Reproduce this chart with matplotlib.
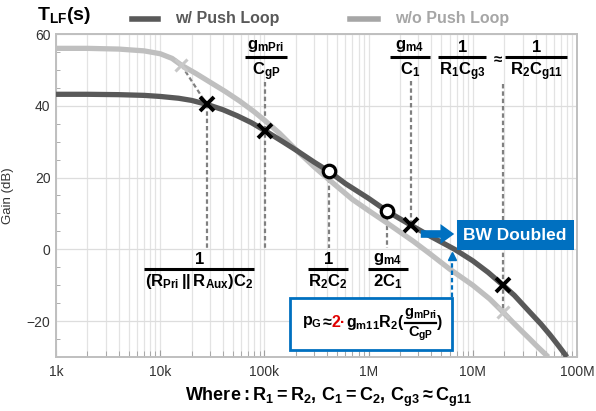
import matplotlib
matplotlib.use('Agg')
import matplotlib.pyplot as plt
from matplotlib import font_manager
from matplotlib.lines import Line2D
from matplotlib.patches import Rectangle, FancyArrowPatch
from matplotlib.ticker import LogLocator, MultipleLocator, NullFormatter

W, H = 596, 411

# loop gain with the push loop (dark) and without it (light)
freq_push = [1e3, 2e3, 4e3, 7e3, 1e4, 1.5e4, 2e4, 2.8e4, 4e4, 5.5e4, 7.5e4, 1.01e5,
             1.5e5, 2e5, 3e5, 4.17e5, 6e5, 1e6, 1.51e6, 2.56e6, 4e6, 6.7e6, 1e7,
             1.4e7, 1.95e7, 2.5e7, 3.5e7, 4.5e7, 5.5e7, 6.5e7, 7.2e7, 8e7]
gain_push = [43.2, 43.2, 43.1, 42.9, 42.6, 42.1, 41.5, 40.4, 38.9, 37.2, 35.3, 33.1,
             30.0, 27.7, 24.3, 21.7, 18.3, 14.2, 10.6, 6.7, 3.5, 0.0, -3.2,
             -6.4, -10.0, -12.8, -17.4, -20.8, -23.8, -26.5, -28.2, -30.0]

freq_nopush = [1e3, 2e3, 4e3, 7e3, 1e4, 1.3e4, 1.6e4, 2.2e4, 3e4, 4.2e4, 5.8e4, 8e4,
               1.01e5, 1.4e5, 2e5, 3e5, 4.17e5, 7e5, 1e6, 1.51e6, 2.7e6, 3.9e6, 6e6,
               1e7, 1.45e7, 1.95e7, 2.4e7, 3e7, 3.5e7, 4e7, 4.6e7, 5.3e7]
gain_nopush = [56.0, 56.0, 55.8, 55.3, 54.5, 53.2, 51.3, 49.0, 46.6, 44.0, 41.3, 38.3,
               35.9, 32.3, 27.8, 23.0, 19.4, 13.9, 10.8, 7.3, 2.2, -1.3, -5.5,
               -10.0, -13.8, -17.5, -20.2, -23.0, -24.9, -26.6, -28.3, -30.0]

# poles (x), zeros (o) and the poles of the loop without push path
pole_freq = [2.8e4, 1.01e5, 2.56e6, 1.95e7]
pole_gain = [40.4, 33.1, 6.7, -10.0]
zero_freq = [4.17e5, 1.51e6]
zero_gain = [21.7, 10.6]
old_pole_freq = [1.6e4, 1.95e7]
old_pole_gain = [51.3, -17.5]

xticks = [1e3, 1e4, 1e5, 1e6, 1e7, 1e8]
xticklabels = ['1k', '10k', '100k', '1M', '10M', '100M']
yticks = [-20, 0, 20, 40, 60]

names = {f.name for f in font_manager.fontManager.ttflist}
narrow = 'Liberation Sans Narrow' if 'Liberation Sans Narrow' in names else 'Liberation Sans'
plt.rcParams['font.family'] = ['Liberation Sans', 'DejaVu Sans']
plt.rcParams['mathtext.fontset'] = 'custom'
for k in ['rm', 'it', 'bf', 'sf']:
    plt.rcParams['mathtext.' + k] = narrow + ':bold'

DARK = '#595959'
LIGHT = '#BFBFBF'
BLUE = '#0070C0'
DASH = '#808080'

fig = plt.figure(figsize=(W / 100, H / 100), dpi=100)
ax = fig.add_axes([56 / W, 1 - 357 / H, (577 - 56) / W, (357 - 34) / H])

ax.set_xscale('log')
ax.set_xlim(1e3, 1e8)
ax.set_ylim(-30, 60)
ax.set_xticks(xticks)
ax.set_xticklabels(xticklabels)
ax.xaxis.set_minor_locator(LogLocator(base=10, subs=range(2, 10), numticks=20))
ax.xaxis.set_minor_formatter(NullFormatter())
ax.set_yticks(yticks)
ax.yaxis.set_minor_locator(MultipleLocator(5))
ax.grid(True, which='both', axis='x', color='#E3E3E3', lw=0.9, zorder=0)
ax.grid(True, which='major', axis='y', color='#DDDDDD', lw=0.9, zorder=0)
for s in ax.spines.values():
    s.set_color(LIGHT)
    s.set_linewidth(1.4)
ax.tick_params(axis='both', which='both', direction='in', color='#A0A0A0', labelsize=10,
               labelcolor='#333333')
ax.tick_params(axis='x', which='major', length=5, pad=6)
ax.tick_params(axis='x', which='minor', length=4)
ax.tick_params(axis='y', which='major', length=0, pad=4)
ax.tick_params(axis='y', which='minor', length=3)
ax.set_ylabel('Gain (dB)', fontsize=9.5, color='#333333', labelpad=9)

# dashed guides from the marks to their labels
dk = dict(color=DASH, lw=1.6, ls=(0, (2, 1.3)), zorder=2)
ax.plot([old_pole_freq[0], pole_freq[0]], [old_pole_gain[0], pole_gain[0]], **dk)
ax.plot([pole_freq[0], pole_freq[0]], [pole_gain[0], 0.5], **dk)
ax.plot([pole_freq[1], pole_freq[1]], [46.5, 0.5], **dk)
ax.plot([zero_freq[0], zero_freq[0]], [zero_gain[0], 0.5], **dk)
ax.plot([zero_freq[1], zero_freq[1]], [zero_gain[1], 0.5], **dk)
ax.plot([pole_freq[2], pole_freq[2]], [47.0, pole_gain[2]], **dk)
ax.plot([pole_freq[3], pole_freq[3]], [46.0, old_pole_gain[1]], **dk)

ax.plot(freq_nopush, gain_nopush, color=LIGHT, lw=3.8, solid_capstyle='butt',
        solid_joinstyle='round', zorder=3)
ax.plot(freq_push, gain_push, color=DARK, lw=3.8, solid_capstyle='butt',
        solid_joinstyle='round', zorder=4)

ax.plot(old_pole_freq, old_pole_gain, ls='none', marker='x', ms=8, mew=2.2,
        color='#C8C8C8', zorder=5)
ax.plot(pole_freq, pole_gain, ls='none', marker='x', ms=10, mew=2.8,
        color='black', zorder=6)
ax.plot(zero_freq, zero_gain, ls='none', marker='o', ms=9, mew=2.3,
        mfc='white', mec='black', zorder=6)


def px(x, y):
    return x / W, 1 - y / H


def ftext(x, y, s, **kw):
    kw.setdefault('fontsize', 12)
    return fig.text(*px(x, y), s, **kw)


def frac(xc, ybar, num, den, half, size=12):
    fig.add_artist(Line2D([(xc - half) / W, (xc + half) / W], [1 - ybar / H] * 2,
                          color='black', lw=2.2, solid_capstyle='butt'))
    ftext(xc, ybar - 2.5, num, ha='center', va='bottom', fontsize=size)
    ftext(xc, ybar + 3, den, ha='center', va='top', fontsize=size)


# title and legend
ftext(37, 15, r'$\mathrm{T_{LF}(s)}$', ha='left', va='center', fontsize=14)
fig.add_artist(Line2D([132 / W, 158 / W], [1 - 19 / H] * 2, color=DARK, lw=4))
ftext(175, 19, 'w/ Push Loop', ha='left', va='center', fontsize=11.5,
      fontweight='bold', color=DARK, family=narrow)
fig.add_artist(Line2D([350 / W, 378 / W], [1 - 19 / H] * 2, color='#A6A6A6', lw=4))
ftext(395, 19, 'w/o Push Loop', ha='left', va='center', fontsize=11.5,
      fontweight='bold', color='#A6A6A6', family=narrow)

# pole / zero expressions
frac(266, 57, r'$\mathrm{g_{mPri}}$', r'$\mathrm{C_{gP}}$', 21)
frac(410, 57, r'$\mathrm{g_{m4}}$', r'$\mathrm{C_1}$', 20)
frac(462, 57, r'$\mathrm{1}$', r'$\mathrm{R_1C_{g3}}$', 24)
ftext(497, 58, r'$\approx$', ha='center', va='center', fontsize=11)
frac(536, 57, r'$\mathrm{1}$', r'$\mathrm{R_2C_{g11}}$', 31)
frac(199, 269, r'$\mathrm{1}$', r'$\mathrm{(R_{Pri}\,||\,R_{Aux})C_2}$', 55)
frac(328, 269, r'$\mathrm{1}$', r'$\mathrm{R_2C_2}$', 20)
frac(388, 269, r'$\mathrm{g_{m4}}$', r'$\mathrm{2C_1}$', 20)

# pG expression box, pieces laid out left to right
fig.add_artist(Rectangle(px(290, 350), 162 / W, 52 / H, transform=fig.transFigure,
                         facecolor='white', edgecolor=BLUE, lw=2, zorder=3))
renderer = fig.canvas.get_renderer()
xcur = 302
for piece, col in [(r'$\mathrm{p_G}$', 'black'), ('\u2248', 'black'),
                   ('2\u00b7', '#E00000'), (r'$\mathrm{g_{m11}R_2(}$', 'black')]:
    t = ftext(xcur, 322, piece, ha='left', va='center', color=col, zorder=4,
              family=narrow, fontweight='bold', fontsize=11.5)
    bb = t.get_window_extent(renderer=renderer)
    xcur += bb.width + 0.3
fx0 = xcur + 0.5
fig.add_artist(Line2D([fx0 / W, (fx0 + 31) / W], [1 - 323 / H] * 2, color='black',
                      lw=1.6, zorder=4))
ftext(fx0 + 15.5, 321, r'$\mathrm{g_{mPri}}$', ha='center', va='bottom', zorder=4,
      fontsize=10.5)
ftext(fx0 + 15.5, 325, r'$\mathrm{C_{gP}}$', ha='center', va='top', zorder=4,
      fontsize=10.5)
ftext(fx0 + 32, 322, ')', ha='left', va='center', zorder=4, family=narrow,
      fontweight='bold', fontsize=11.5)

# bandwidth callout
fig.add_artist(Rectangle(px(457, 250), 117 / W, 30 / H, transform=fig.transFigure,
                         facecolor=BLUE, edgecolor='none', zorder=3))
ftext(515, 235, 'BW Doubled', ha='center', va='center', color='white',
      fontsize=12.5, fontweight='bold', family=narrow, zorder=4)
fig.add_artist(FancyArrowPatch(px(418, 234), px(457, 234), transform=fig.transFigure,
                               arrowstyle='simple,head_width=1.3,head_length=0.9,tail_width=0.5',
                               mutation_scale=11, color=BLUE, lw=0, zorder=4))
fig.add_artist(Line2D([452 / W, 452 / W], [1 - 297 / H, 1 - 258 / H], color=BLUE, lw=1.6,
                      ls=(0, (2, 1.3)), zorder=4))
fig.add_artist(Line2D([452 / W], [1 - 256 / H], marker='^', ms=6, color=BLUE, lw=0,
                      zorder=4))

ftext(328, 397, r'$\mathrm{Where:R_1=R_2,\,C_1=C_2,\,C_{g3}\approx C_{g11}}$',
      ha='center', va='center', fontsize=13)

fig.savefig('out.png', dpi=100)
